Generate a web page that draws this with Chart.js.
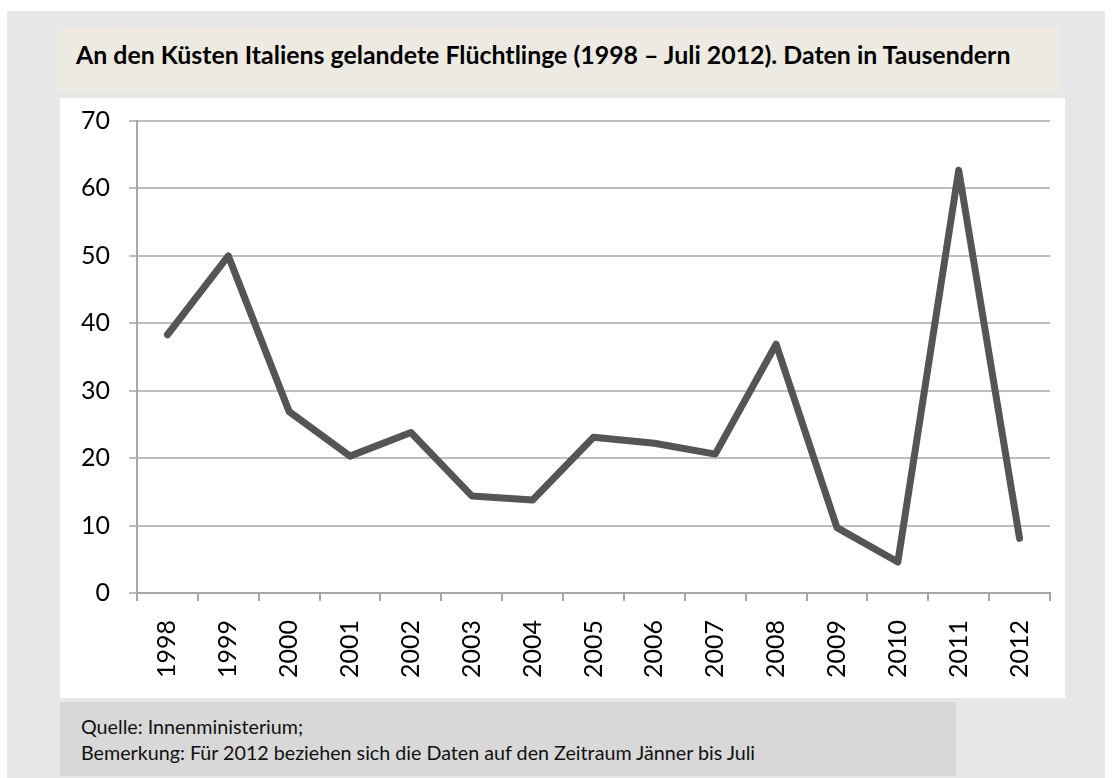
<!DOCTYPE html>
<html>
<head>
<meta charset="utf-8">
<script src="https://cdn.jsdelivr.net/npm/chart.js@4"></script>
<style>
  body { margin: 0; background: #fff; width: 1115px; height: 778px; position: relative; overflow: hidden; }
  .outer { position: absolute; left: 7px; top: 11px; width: 1098px; height: 767px; background: #e7e7e7; }
  .title { position: absolute; left: 57px; top: 26px; width: 1003px; height: 66px; background: #edebe1;
    font-family: Lato, sans-serif; font-weight: bold; font-size: 24.9px; color: #000; }
  .title span { position: absolute; left: 19px; top: 13px; white-space: nowrap; }
  .plot { position: absolute; left: 60px; top: 98px; width: 1005px; height: 600px; background: #fff; }
  .note { position: absolute; left: 60px; top: 702px; width: 896px; height: 74px; background: #d8d8d8;
    font-family: Lato, sans-serif; font-size: 19.7px; color: #111; line-height: 26px; }
  .note div { position: absolute; left: 21px; top: 12px; white-space: nowrap; }
</style>
</head>
<body>
<div class="outer"></div>
<div class="title"><span>An den Küsten Italiens gelandete Flüchtlinge (1998 – Juli 2012). Daten in Tausendern</span></div>
<div class="plot"><canvas id="chart" width="1005" height="600"></canvas></div>
<div class="note"><div>Quelle: Innenministerium;<br>Bemerkung: Für 2012 beziehen sich die Daten auf den Zeitraum Jänner bis Juli</div></div>
<script>
const years = ["1998", "1999", "2000", "2001", "2002", "2003", "2004", "2005",
  "2006", "2007", "2008", "2009", "2010", "2011", "2012"];
// arrivals in thousands
const arrivals = [38.3, 50.0, 26.9, 20.3, 23.8, 14.4, 13.8, 23.1,
  22.2, 20.6, 36.9, 9.7, 4.6, 62.7, 8.1];
const yTicks = [0, 10, 20, 30, 40, 50, 60, 70];

const gridGray = "#bdbdbd";
const axisGray = "#a6a6a6";

new Chart(document.getElementById("chart"), {
  type: "line",
  data: {
    labels: years,
    datasets: [
      {
        data: arrivals,
        borderColor: "#555555",
        borderWidth: 7,
        pointRadius: 0,
        tension: 0,
        borderCapStyle: "round",
        borderJoinStyle: "round",
        fill: false,
      },
    ],
  },
  options: {
    responsive: false,
    animation: false,
    layout: { padding: { top: 23, right: 15, left: 0, bottom: 0 } },
    plugins: { legend: { display: false }, tooltip: { enabled: false } },
    scales: {
      x: {
        offset: true,
        grid: { drawOnChartArea: false, offset: true, tickLength: 8, color: axisGray, lineWidth: 2 },
        border: { color: axisGray, width: 2 },
        ticks: {
          minRotation: 90,
          maxRotation: 90,
          padding: 19,
          color: "#000",
          font: { family: "Lato", size: 25 },
        },
        afterFit: (scale) => {
          scale.height = 105;
          scale.paddingLeft = 0;
          scale.paddingRight = 0;
        },
      },
      y: {
        min: 0,
        max: 70,
        afterBuildTicks: (scale) => {
          scale.ticks = yTicks.map((v) => ({ value: v }));
        },
        grid: { color: gridGray, lineWidth: 2, tickLength: 8 },
        border: { color: axisGray, width: 2 },
        ticks: {
          padding: 19,
          color: "#000",
          font: { family: "Lato", size: 25 },
        },
        afterFit: (scale) => {
          scale.width = 77;
          scale.paddingTop = 0;
          scale.paddingBottom = 0;
        },
      },
    },
  },
});
</script>
</body>
</html>
